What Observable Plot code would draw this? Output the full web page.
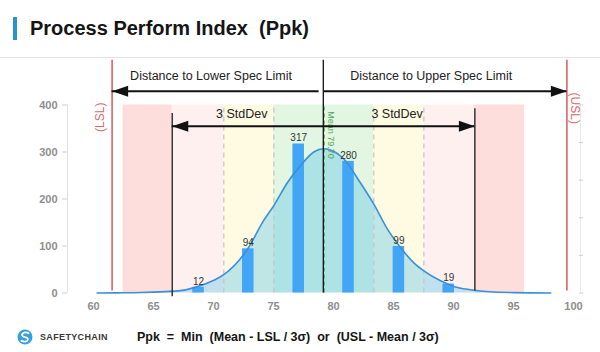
<!DOCTYPE html>
<html>
<head>
<meta charset="utf-8">
<script src="https://cdn.jsdelivr.net/npm/d3@7"></script>
<script src="https://cdn.jsdelivr.net/npm/@observablehq/plot@0.6"></script>
<style>
  html, body { margin: 0; padding: 0; background: #fff; }
  body { width: 600px; height: 352px; overflow: hidden; font-family: 'Liberation Sans', Arial, sans-serif; }
  #header { position: relative; height: 57px; border-bottom: 1px solid #e3e3e3; }
  #header .bar { position: absolute; left: 13px; top: 17px; width: 4px; height: 23px; background: #2a95c8; }
  #header .title { position: absolute; left: 30px; top: 17px; font: bold 20px 'Liberation Sans', Arial, sans-serif; white-space: pre; color: #151515; line-height: 23px; }
  #chart svg { display: block; overflow: visible; }
  #chart svg [aria-label="y-axis tick"] path, #chart svg [aria-label="y-axis"] line { stroke: #cfcfcf; }
  #footer { position: relative; height: 30px; }
  #footer .logo { position: absolute; left: 17px; top: 7px; }
  #footer .brand { position: absolute; left: 40px; top: 10px; font: bold 9px 'Liberation Sans', Arial, sans-serif; letter-spacing: 0.35px; color: #3a3a3a; }
  #footer .formula { position: absolute; left: 137px; top: 8px; font: bold 12.5px 'Liberation Sans', Arial, sans-serif; white-space: pre; color: #151515; }
</style>
</head>
<body>
<div id="header"><div class="bar"></div><div class="title">Process Perform Index  (Ppk)</div></div>
<div id="chart"></div>
<div id="footer">
  <svg class="logo" width="16" height="16" viewBox="0 0 16 16">
    <circle cx="8" cy="8" r="7.5" fill="#35a0da"/>
    <path d="M11.5 4.2 C9.8 2.8 6.2 3.0 5.2 5.0 C4.3 6.9 6.4 7.8 8.0 8.1 C9.8 8.4 11.6 9.3 10.7 11.2 C9.8 13.0 6.2 13.2 4.5 11.8" fill="none" stroke="#fff" stroke-width="1.8" stroke-linecap="round"/>
  </svg>
  <div class="brand">SAFETYCHAIN</div>
  <div class="formula">Ppk  =  Min  (Mean - LSL / 3σ)  or  (USL - Mean / 3σ)</div>
</div>
<script>
// ---- data ----
const xTicks = [60, 65, 70, 75, 80, 85, 90, 95, 100];
const yTicks = [0, 100, 200, 300, 400];
const rightTicks = [0, 80, 160, 240, 320, 400];

const binCenters = [68.75, 72.9, 77.1, 81.25, 85.45, 89.6];
const binCounts = [12, 94, 317, 280, 99, 19];

const curveX = [60.3, 62, 64, 66, 67.25, 68.6, 70.03, 70.86, 72.8, 74.2, 75.03, 76.14, 77.25, 78.36, 79.2, 79.75, 80.86, 82.25, 83.36, 84.47, 85.58, 86.7, 87.53, 88.92, 90.03, 91.42, 93, 95, 98.1];
const curveY = [0, 0.3, 1, 3, 5, 13, 27, 39, 92, 155, 186, 234, 271, 300, 307, 304, 285, 234, 189, 137, 97, 64, 47, 26, 14, 7, 2.5, 0.8, 0];

const bandEdges = [62.47, 66.56, 70.86, 75.03, 83.36, 87.53, 91.78, 95.92];
const bandZones = ["4σ", "3σ", "2σ", "1σ", "2σ", "3σ", "4σ"];
const zoneNames = ["1σ", "2σ", "3σ", "4σ"];
const dashedEdges = [70.86, 75.03, 83.36, 87.53];

const meanValue = 79.15;
const meanLabel = "Mean 79.70";
const sigma3Lines = [66.56, 91.78];
const specLimits = [61.55, 99.45];
const specNames = ["(LSL)", "(USL)"];
const distanceLabels = ["Distance to Lower Spec Limit", "Distance to Upper Spec Limit"];
const sdLabel = "3 StdDev";

// annotation levels (in y units)
const levelTop = 495, levelDistText = 462, levelDistArrow = 429, levelSdText = 380, levelSdArrow = 355;

// ---- derived tables ----
const bands = bandZones.map((z, i) => ({x1: bandEdges[i], x2: bandEdges[i + 1], zone: z}));
const bins = binCenters.map((c, i) => ({x: c, count: binCounts[i]}));
const curvePts = curveX.map((x, i) => ({x, y: curveY[i]}));
const halfBar = 0.48;
const xMin = 57.8333, xMax = 100.5833;

const headRight = {draw(ctx) { ctx.moveTo(0, 0); ctx.lineTo(-16, -5.5); ctx.lineTo(-16, 5.5); ctx.closePath(); }};
const headLeft = {draw(ctx) { ctx.moveTo(0, 0); ctx.lineTo(16, -5.5); ctx.lineTo(16, 5.5); ctx.closePath(); }};

const [lsl, usl] = specLimits;
const [lo3, hi3] = sigma3Lines;

const chart = Plot.plot({
  width: 600,
  height: 264,
  marginLeft: 67,
  marginRight: 20,
  marginTop: 46.5,
  marginBottom: 29.5,
  x: {domain: [xMin, xMax], ticks: xTicks, tickSize: 0, tickPadding: 9, label: null},
  y: {domain: [0, 400], ticks: yTicks, tickSize: 5, tickPadding: 5, label: null},
  color: {domain: zoneNames, range: ["#e2f6e1", "#fefbe2", "#fff0f0", "#fddedc"]},
  style: {fontFamily: "'Liberation Sans', Arial, sans-serif", fontSize: "11px", fontWeight: "bold", color: "#8e8e8e", background: "transparent", overflow: "visible"},
  marks: [
    // sigma zones
    Plot.rect(bands, {x1: "x1", x2: "x2", y1: 0, y2: 400, fill: "zone"}),
    // axis lines (faint)
    Plot.ruleX([xMin], {y1: 0, y2: 400, stroke: "#e2e2e2"}),
    Plot.ruleX([xMax], {y1: 0, y2: 400, stroke: "#e6eaf0"}),
    Plot.ruleY(rightTicks, {x1: xMax - 0.1, x2: xMax + 0.25, stroke: "#d0d0d0"}),
    // filled normal curve
    Plot.areaY(curvePts, {x: "x", y: "y", curve: "monotone-x", fill: "#62c8ea", fillOpacity: 0.4}),
    // zone separators
    Plot.ruleX(dashedEdges, {y1: 0, y2: 400, stroke: "#c4c4c4", strokeWidth: 1.2, strokeDasharray: "5,4"}),
    // histogram bars
    Plot.rect(bins, {x1: d => d.x - halfBar, x2: d => d.x + halfBar, y1: 0, y2: "count", fill: "#42a5f5"}),
    // curve line
    Plot.line(curvePts, {x: "x", y: "y", curve: "monotone-x", stroke: "#3c8fd8", strokeWidth: 1.6}),
    // bar labels
    Plot.text(bins, {x: "x", y: "count", text: d => String(d.count), dy: -6, fontSize: 10, fontWeight: "normal", fill: "#333"}),
    // ±3σ lines
    Plot.ruleX([lo3], {y1: -8, y2: 382, stroke: "#1a1a1a", strokeWidth: 1.3}),
    Plot.ruleX([hi3], {y1: 4, y2: 392, stroke: "#1a1a1a", strokeWidth: 1.3}),
    // mean line
    Plot.ruleX([meanValue], {y1: 0, y2: 400, dx: 0.8, stroke: "#4aa04a", strokeWidth: 1.2, strokeDasharray: "4,3"}),
    Plot.ruleX([meanValue], {y1: 0, y2: levelTop, stroke: "#111", strokeWidth: 1.3}),
    Plot.text([meanValue], {x: d => d, y: 336, dx: 8, text: () => meanLabel, rotate: 90, fontSize: 9, fontWeight: "normal", fill: "#55a555"}),
    // spec limits
    Plot.ruleX(specLimits, {y1: 4, y2: levelTop, stroke: "#d45a5a", strokeWidth: 1.5}),
    Plot.text([lsl], {x: d => d, y: 374, dx: -12, text: () => specNames[0], rotate: -90, fontSize: 12, fontWeight: "normal", fill: "#d86868"}),
    Plot.text([usl], {x: d => d, y: 393, dx: 7.5, text: () => specNames[1], rotate: 90, fontSize: 12, fontWeight: "normal", fill: "#d86868"}),
    // distance arrows
    Plot.ruleY([levelDistArrow], {x1: lsl, x2: meanValue - 0.35, stroke: "#111", strokeWidth: 2}),
    Plot.ruleY([levelDistArrow], {x1: meanValue + 0.1, x2: usl, stroke: "#111", strokeWidth: 2}),
    Plot.dot([lsl], {x: d => d, y: levelDistArrow, r: 5, symbol: headLeft, fill: "#111", stroke: "none"}),
    Plot.dot([usl], {x: d => d, y: levelDistArrow, r: 5, symbol: headRight, fill: "#111", stroke: "none"}),
    Plot.text([lsl], {x: d => d, y: levelDistText, dx: 18, text: () => distanceLabels[0], textAnchor: "start", fontSize: 12.5, fontWeight: "normal", fill: "#222"}),
    Plot.text([meanValue], {x: d => d, y: levelDistText, dx: 27, text: () => distanceLabels[1], textAnchor: "start", fontSize: 12.5, fontWeight: "normal", fill: "#222"}),
    // 3 StdDev arrows
    Plot.ruleY([levelSdArrow], {x1: lo3, x2: hi3, stroke: "#111", strokeWidth: 2}),
    Plot.dot([lo3], {x: d => d, y: levelSdArrow, r: 5, symbol: headLeft, fill: "#111", stroke: "none"}),
    Plot.dot([hi3], {x: d => d, y: levelSdArrow, r: 5, symbol: headRight, fill: "#111", stroke: "none"}),
    Plot.text([(lo3 + meanValue) / 2], {x: d => d, y: levelSdText, dx: -6, text: () => sdLabel, fontSize: 12.5, fontWeight: "normal", fill: "#222"}),
    Plot.text([(meanValue + hi3) / 2], {x: d => d, y: levelSdText, dx: -2, text: () => sdLabel, fontSize: 12.5, fontWeight: "normal", fill: "#222"})
  ]
});
document.getElementById("chart").appendChild(chart);
</script>
</body>
</html>
